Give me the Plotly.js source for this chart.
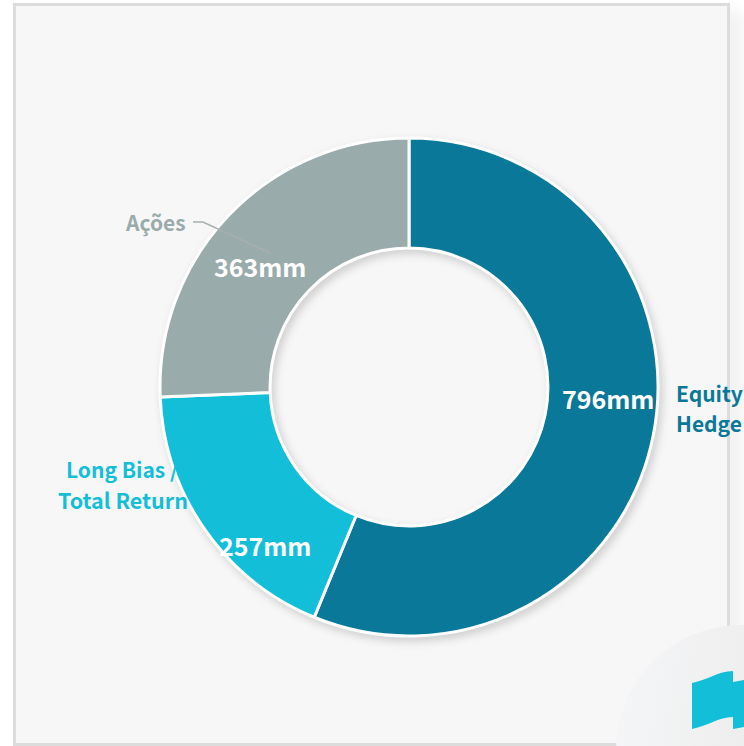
<!DOCTYPE html>
<html>
<head>
<meta charset="utf-8">
<script src="https://cdn.plot.ly/plotly-3.0.1.min.js"></script>
<style>
  html, body { margin: 0; padding: 0; background: #ffffff; width: 744px; height: 746px; overflow: hidden; }
  #panel {
    position: absolute; left: 13px; top: 3px; width: 711px; height: 737px;
    background: #f7f7f7; border: 3px solid #dcdcdc;
    box-shadow: 14px 8px 14px rgba(0,0,0,0.05);
  }
  #badge {
    position: absolute; left: 616px; top: 625px; width: 250px; height: 250px; border-radius: 50%;
    background: linear-gradient(100deg, #f5f6f8 0%, #eeeeee 50%);
  }
  #chart { position: absolute; left: 0; top: 0; width: 744px; height: 746px; }
  #chart .pielayer { filter: drop-shadow(3px 4px 4px rgba(0,0,0,0.16)); }
</style>
</head>
<body>
<div id="panel"></div>
<div id="badge"></div>
<div id="chart"></div>
<script>
// Strategy allocation, in millions
const categories = ['Equity Hedge', 'Long Bias / Total Return', 'Ações'];
const amounts = [796, 257, 363];
const sliceColors = ['#0a7899', '#13bed8', '#9aabac'];

const W = 744, H = 746;
const px = v => v / W;
const py = v => 1 - v / H;
const FONT = '"Noto Sans CJK SC", "Noto Sans", sans-serif';

const valueLabel = v => v + 'mm';

function note(text, x, y, size, color, xanchor) {
  return {
    text, x: px(x), y: py(y), xref: 'paper', yref: 'paper',
    xanchor, yanchor: 'middle', align: xanchor, showarrow: false,
    borderpad: 0, borderwidth: 0,
    font: { family: FONT, size, color, weight: 700 }
  };
}

const trace = {
  type: 'pie',
  labels: categories,
  values: amounts,
  sort: false,
  direction: 'clockwise',
  rotation: 0,
  hole: 0.558,
  textinfo: 'none',
  hoverinfo: 'label+value',
  marker: { colors: sliceColors, line: { color: '#ffffff', width: 3 } },
  domain: { x: [px(160), px(658)], y: [py(636), py(138)] }
};

const layout = {
  width: W, height: H,
  margin: { l: 0, r: 0, t: 0, b: 0 },
  paper_bgcolor: 'rgba(0,0,0,0)',
  plot_bgcolor: 'rgba(0,0,0,0)',
  showlegend: false,
  annotations: [
    note(valueLabel(amounts[0]), 607.5, 398, 25, '#ffffff', 'center'),
    note(valueLabel(amounts[1]), 264.5, 545, 25, '#ffffff', 'center'),
    note(valueLabel(amounts[2]), 259.5, 266, 25, '#ffffff', 'center'),
    note('Equity', 676, 393, 21, sliceColors[0], 'left'),
    note('Hedge', 676, 423, 21, sliceColors[0], 'left'),
    note('Long Bias /', 178, 469, 21, sliceColors[1], 'right'),
    note('Total Return', 187.5, 499, 21.5, sliceColors[1], 'right'),
    note('Ações', 186, 222, 21, sliceColors[2], 'right')
  ],
  shapes: [
    // Leader line from the Ações label into its slice
    {
      type: 'path', xref: 'paper', yref: 'paper', layer: 'above',
      path: `M ${px(193)} ${py(222)} L ${px(203)} ${py(222)} L ${px(270)} ${py(253)}`,
      line: { color: '#a9aeae', width: 1.5 }
    },
    // Flag emblem in the lower corner
    {
      type: 'path', xref: 'paper', yref: 'paper', layer: 'above',
      path: `M ${px(692)} ${py(683)} C ${px(708)} ${py(680)} ${px(718)} ${py(671)} ${px(733)} ${py(671)} ` +
            `L ${px(733)} ${py(682)} L ${px(744)} ${py(680)} L ${px(744)} ${py(727)} L ${px(733)} ${py(729)} ` +
            `L ${px(733)} ${py(717)} C ${px(718)} ${py(717)} ${px(708)} ${py(726)} ${px(692)} ${py(729)} Z`,
      fillcolor: '#13bed8', line: { width: 0 }
    }
  ]
};

Plotly.newPlot('chart', [trace], layout, { displayModeBar: false, staticPlot: true });
</script>
</body>
</html>
